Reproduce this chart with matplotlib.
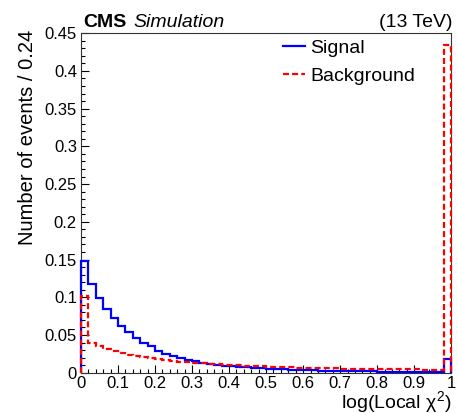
import numpy as np
import matplotlib
matplotlib.use("Agg")
import matplotlib.pyplot as plt
from matplotlib.lines import Line2D

plt.rcParams["font.family"] = ["Liberation Sans", "DejaVu Sans"]
plt.rcParams["mathtext.fontset"] = "custom"
plt.rcParams["mathtext.rm"] = "Liberation Sans"
plt.rcParams["mathtext.it"] = "Liberation Sans"

# 50 bins over [0, 1], normalised distributions
edges = np.linspace(0.0, 1.0, 51)

signal = [0.148, 0.117, 0.099, 0.085, 0.073, 0.062, 0.054, 0.046, 0.040, 0.035,
          0.029, 0.025, 0.022, 0.019, 0.017, 0.015, 0.0135, 0.012, 0.0105, 0.0095,
          0.0088, 0.0080, 0.0073, 0.0066, 0.0060, 0.0055, 0.0050, 0.0045, 0.0041, 0.0037,
          0.0034, 0.0031, 0.0028, 0.0026, 0.0024, 0.0022, 0.0020, 0.0019, 0.0018, 0.0016,
          0.0015, 0.0014, 0.0013, 0.0012, 0.0012, 0.0011, 0.0011, 0.0010, 0.0010, 0.018]

background = [0.101, 0.039, 0.0355, 0.032, 0.029, 0.026, 0.024, 0.022, 0.0205, 0.019,
              0.0175, 0.0165, 0.0155, 0.0145, 0.0138, 0.013, 0.0124, 0.0118, 0.0112, 0.0107,
              0.0102, 0.0097, 0.0093, 0.0089, 0.0085, 0.0080, 0.0077, 0.0074, 0.0071, 0.0068,
              0.0065, 0.0063, 0.0061, 0.0059, 0.0057, 0.0055, 0.0054, 0.0052, 0.0051, 0.0049,
              0.0048, 0.0047, 0.0046, 0.0045, 0.0044, 0.0043, 0.0042, 0.0041, 0.0040, 0.435]

dashes = (0, (2.7, 1.4))

fig = plt.figure(figsize=(4.58, 4.13), dpi=100)
ax = fig.add_axes([0.177, 0.0976, 0.808, 0.822])

ax.stairs(signal, edges, color=(0, 0, 1), lw=1.6, baseline=0, clip_on=False, zorder=3)
ax.stairs(background, edges, color=(1, 0, 0), lw=1.6, ls=dashes, baseline=0,
          clip_on=False, zorder=4)

ax.set_xlim(0, 1)
ax.set_ylim(0, 0.45)
ax.set_xticks(np.arange(0, 1.01, 0.1))
ax.set_xticks(np.arange(0, 1.001, 0.02), minor=True)
ax.set_yticks(np.arange(0, 0.451, 0.05))
ax.set_yticks(np.arange(0, 0.451, 0.01), minor=True)
ax.set_xticklabels(["0", "0.1", "0.2", "0.3", "0.4", "0.5", "0.6", "0.7", "0.8", "0.9", "1"])
ax.set_yticklabels(["0", "0.05", "0.1", "0.15", "0.2", "0.25", "0.3", "0.35", "0.4", "0.45"])
ax.tick_params(which="both", direction="in", top=False, right=False, labelsize=12)
ax.tick_params(which="major", length=6, width=0.8)
ax.tick_params(which="minor", length=3, width=0.8)
ax.tick_params(axis="x", pad=2.5)
ax.tick_params(axis="y", pad=3)
for s in ax.spines.values():
    s.set_linewidth(0.8)
    s.set_color("#333333")

# axis titles, ROOT style: y at the top, x at the right end
fig.text(0.059, 0.927, "Number of events / 0.24", fontsize=14.5, rotation=90,
         ha="center", va="top")
fig.text(0.986, 0.013, r"log(Local $\chi^{2}$)", fontsize=14, ha="right", va="baseline")

fig.text(0.181, 0.935, "CMS", fontsize=14, fontweight="bold", ha="left", va="baseline")
fig.text(0.292, 0.935, "Simulation", fontsize=14, fontstyle="italic", ha="left", va="baseline")
fig.text(0.988, 0.935, "(13 TeV)", fontsize=14, ha="right", va="baseline")

handles = [Line2D([], [], color=(0, 0, 1), lw=1.6),
           Line2D([], [], color=(1, 0, 0), lw=1.6, ls=dashes)]
ax.legend(handles, ["Signal", "Background"], loc="upper left",
          bbox_to_anchor=(0.546, 0.982), frameon=False, fontsize=14,
          handlelength=1.15, handletextpad=0.25, labelspacing=0.55,
          borderaxespad=0, borderpad=0)

fig.savefig("out.png", dpi=100)
